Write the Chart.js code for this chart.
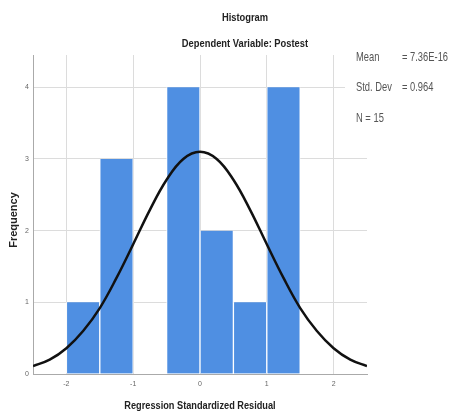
<!DOCTYPE html>
<html>
<head>
<meta charset="utf-8">
<script src="https://cdn.jsdelivr.net/npm/chart.js@4"></script>
<style>
  html, body { margin: 0; padding: 0; background: #fff; }
  #wrap { width: 455px; height: 417px; }
</style>
</head>
<body>
<div id="wrap"><canvas id="hist"></canvas></div>
<script>
// bin centres (width 0.5) and frequencies
const binCenters = [-1.75, -1.25, -0.75, -0.25, 0.25, 0.75, 1.25];
const frequencies = [1, 3, 0, 4, 2, 1, 4];

// normal curve
const curveX = [-2.5, -2.25, -2, -1.75, -1.5, -1.25, -1, -0.75, -0.5, -0.25, 0,
                0.25, 0.5, 0.75, 1, 1.25, 1.5, 1.75, 2, 2.25, 2.5];
const curveY = [0.11, 0.20, 0.36, 0.60, 0.92, 1.34, 1.81, 2.29, 2.71, 3.00, 3.10,
                3.00, 2.71, 2.29, 1.81, 1.34, 0.92, 0.60, 0.36, 0.20, 0.11];

const xTicks = [-2, -1, 0, 1, 2];
const yTicks = [0, 1, 2, 3, 4];

const statLabels = ['Mean', 'Std. Dev', 'N = 15'];
const statValues = ['= 7.36E-16', '= 0.964', ''];

const font = '"Liberation Sans", Arial, sans-serif';

// narrow-looking text: squeeze horizontally
function narrowText(ctx, text, x, y, sx) {
  ctx.save();
  ctx.translate(x, y);
  ctx.scale(sx, 1);
  ctx.fillText(text, 0, 0);
  ctx.restore();
}

const textPlugin = {
  id: 'texts',
  beforeDatasetsDraw(chart) {
    // stats box hides the gridline behind it
    const ctx = chart.ctx;
    ctx.save();
    ctx.fillStyle = '#fff';
    ctx.fillRect(345, 40, 110, 95);
    ctx.restore();
  },
  afterDraw(chart) {
    const ctx = chart.ctx;
    const area = chart.chartArea;
    ctx.save();
    ctx.fillStyle = '#222';
    ctx.textAlign = 'center';
    ctx.textBaseline = 'middle';
    ctx.font = 'bold 11px ' + font;
    narrowText(ctx, 'Histogram', 245, 18, 0.85);
    narrowText(ctx, 'Dependent Variable: Postest', 245, 44, 0.85);
    ctx.font = 'bold 11.5px ' + font;
    narrowText(ctx, 'Regression Standardized Residual', (area.left + area.right) / 2, 406, 0.8);
    ctx.save();
    ctx.translate(14, 220);
    ctx.rotate(-Math.PI / 2);
    ctx.font = 'bold 11px ' + font;
    ctx.fillText('Frequency', 0, 0);
    ctx.restore();

    ctx.textAlign = 'left';
    ctx.font = '13px ' + font;
    ctx.fillStyle = '#555';
    statLabels.forEach((l, i) => {
      const y = 57 + i * 30.5;
      narrowText(ctx, l, 356, y, 0.72);
      if (statValues[i]) narrowText(ctx, statValues[i], 402, y, 0.72);
    });
    ctx.restore();
  }
};

const keepTicks = list => scale => {
  scale.ticks = list.map(v => ({ value: v }));
};

new Chart(document.getElementById('hist'), {
  data: {
    datasets: [
      {
        type: 'line',
        data: curveX.map((x, i) => ({ x: x, y: curveY[i] })),
        borderColor: '#111',
        borderWidth: 2.5,
        pointRadius: 0,
        tension: 0.4,
        fill: false,
        order: 0
      },
      {
        type: 'bar',
        data: binCenters.map((x, i) => ({ x: x, y: frequencies[i] })),
        backgroundColor: '#4f8fe2',
        borderColor: '#ffffff',
        borderWidth: { left: 1, right: 1, top: 0, bottom: 0 },
        barPercentage: 1,
        categoryPercentage: 1,
        order: 1
      }
    ]
  },
  options: {
    responsive: true,
    maintainAspectRatio: false,
    animation: false,
    layout: { padding: { left: 0, right: 88, top: 55, bottom: 0 } },
    plugins: { legend: { display: false }, tooltip: { enabled: false } },
    scales: {
      x: {
        type: 'linear',
        min: -2.5,
        max: 2.5,
        offset: false,
        afterBuildTicks: keepTicks(xTicks),
        afterFit: s => { s.height = 43; },
        ticks: { color: '#666', font: { size: 7, family: font }, padding: 6 },
        grid: { color: '#dcdcdc', lineWidth: 1, drawTicks: false, offset: false },
        border: { color: '#aaa' }
      },
      y: {
        type: 'linear',
        min: 0,
        max: 4.45,
        afterBuildTicks: keepTicks(yTicks),
        afterFit: s => { s.width = 33; },
        ticks: { color: '#666', font: { size: 7, family: font }, padding: 4 },
        grid: { color: '#dcdcdc', lineWidth: 1, drawTicks: false },
        border: { color: '#aaa' }
      }
    }
  },
  plugins: [textPlugin]
});
</script>
</body>
</html>
